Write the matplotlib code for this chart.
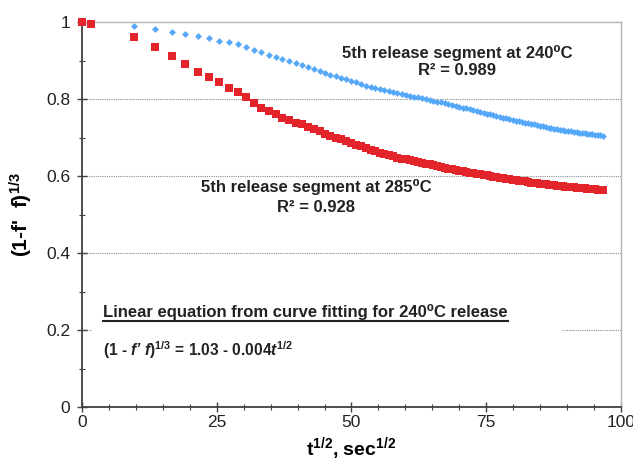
import matplotlib
matplotlib.use("Agg")
import matplotlib.pyplot as plt
from matplotlib.patches import Rectangle
from matplotlib.lines import Line2D

plt.rcParams['font.family'] = ['Liberation Sans', 'DejaVu Sans']
plt.rcParams['mathtext.fontset'] = 'custom'
plt.rcParams['mathtext.rm'] = 'Liberation Sans'
plt.rcParams['mathtext.it'] = 'Liberation Sans:italic'
plt.rcParams['mathtext.bf'] = 'Liberation Sans:bold'
plt.rcParams['mathtext.bfit'] = 'Liberation Sans:bold:italic'

# t^(1/2) values (sec^1/2)
x_pts = [9.6, 13.6, 16.7, 19.2, 21.5, 23.6, 25.4, 27.2, 28.9, 30.4,
         31.9, 33.3, 34.7, 36.0, 37.2, 38.5, 39.7, 40.8, 41.9, 43.0,
         44.1, 45.1, 46.1, 47.1, 48.1, 49.0, 50.0, 50.9, 51.8, 52.7,
         53.6, 54.4, 55.3, 56.1, 56.9, 57.7, 58.5, 59.3, 60.1, 60.8,
         61.6, 62.3, 63.1, 63.8, 64.5, 65.2, 65.9, 66.6, 67.3, 68.0,
         68.7, 69.4, 70.0, 70.7, 71.3, 72.0, 72.6, 73.3, 73.9, 74.5,
         75.1, 75.7, 76.3, 76.9, 77.5, 78.1, 78.7, 79.3, 79.9, 80.5,
         81.0, 81.6, 82.2, 82.7, 83.3, 83.9, 84.4, 84.9, 85.5, 86.0,
         86.6, 87.1, 87.6, 88.2, 88.7, 89.2, 89.7, 90.2, 90.7, 91.2,
         91.8, 92.3, 92.8, 93.3, 93.7, 94.2, 94.7, 95.2, 95.7, 96.2, 96.7]

# 5th release segment at 285 C (red squares)
x_285 = [0.0, 1.7] + x_pts
y_285 = [1.000, 0.995,
         0.960, 0.935, 0.911, 0.890, 0.871, 0.856, 0.843, 0.828, 0.818, 0.805,
         0.790, 0.777, 0.770, 0.760, 0.752, 0.745, 0.739, 0.734, 0.728, 0.722,
         0.716, 0.710, 0.705, 0.700, 0.695, 0.690, 0.686, 0.681, 0.677, 0.673,
         0.668, 0.665, 0.661, 0.658, 0.654, 0.651, 0.648, 0.645, 0.643, 0.641,
         0.638, 0.636, 0.634, 0.632, 0.630, 0.628, 0.625, 0.623, 0.621, 0.619,
         0.617, 0.616, 0.614, 0.612, 0.611, 0.609, 0.607, 0.606, 0.604, 0.603,
         0.602, 0.600, 0.598, 0.597, 0.595, 0.594, 0.593, 0.591, 0.590, 0.589,
         0.588, 0.587, 0.586, 0.585, 0.583, 0.582, 0.581, 0.580, 0.579, 0.578,
         0.577, 0.576, 0.576, 0.575, 0.574, 0.573, 0.572, 0.572, 0.571, 0.571,
         0.570, 0.569, 0.569, 0.568, 0.567, 0.567, 0.566, 0.566, 0.565, 0.565, 0.564]

# 5th release segment at 240 C (blue diamonds)
x_240 = x_pts
y_240 = [0.990, 0.982, 0.975, 0.969, 0.963, 0.958, 0.952, 0.947, 0.942, 0.935,
         0.928, 0.921, 0.914, 0.909, 0.904, 0.898, 0.893, 0.888, 0.884, 0.878,
         0.873, 0.868, 0.863, 0.859, 0.855, 0.851, 0.847, 0.843, 0.839, 0.835,
         0.832, 0.829, 0.826, 0.823, 0.820, 0.818, 0.815, 0.813, 0.811, 0.809,
         0.806, 0.804, 0.802, 0.800, 0.797, 0.795, 0.793, 0.791, 0.789, 0.787,
         0.785, 0.782, 0.780, 0.778, 0.776, 0.773, 0.771, 0.769, 0.767, 0.764,
         0.762, 0.760, 0.758, 0.756, 0.754, 0.752, 0.750, 0.748, 0.746, 0.744,
         0.742, 0.741, 0.739, 0.737, 0.736, 0.734, 0.732, 0.731, 0.729, 0.728,
         0.726, 0.725, 0.723, 0.722, 0.720, 0.719, 0.718, 0.717, 0.716, 0.715,
         0.714, 0.713, 0.712, 0.711, 0.710, 0.709, 0.708, 0.707, 0.707, 0.706, 0.705]

x_ticks = [0, 25, 50, 75, 100]
y_ticks = [0, 0.2, 0.4, 0.6, 0.8, 1]
y_ticklabels = ['0', '0.2', '0.4', '0.6', '0.8', '1']

fig = plt.figure(figsize=(6.33, 4.61), dpi=100)
ax = fig.add_axes([0.1295, 0.1171, 0.8515, 0.8351])

# dotted grid
for yv in y_ticks[1:-1]:
    ax.axhline(yv, color='#8c8c8c', lw=0.8, ls=(0, (1, 1)), zorder=1)

ax.plot(x_285, y_285, ls='none', marker='s', ms=5.8, mew=0,
        color='#e3242b', zorder=3, clip_on=False)
ax.plot(x_240, y_240, ls='none', marker='D', ms=3.5, mew=0,
        color='#55a8f8', zorder=4, clip_on=False)

ax.set_xlim(0, 100)
ax.set_ylim(0, 1)
ax.set_xticks(x_ticks)
ax.set_xticks(range(0, 101, 5), minor=True)
ax.set_yticks(y_ticks)
ax.set_yticklabels(y_ticklabels)
ax.set_yticks([0.1, 0.3, 0.5, 0.7, 0.9], minor=True)
ax.tick_params(axis='both', which='major', direction='inout', length=7,
               width=1, color='#404040', labelsize=12.5, labelcolor='#222222')
ax.tick_params(axis='x', which='major', pad=2)
ax.tick_params(axis='y', which='major', pad=5)
ax.tick_params(axis='both', which='minor', direction='inout', length=4,
               width=0.8, color='#404040')

for s in ['left', 'bottom']:
    ax.spines[s].set_color('#404040')
    ax.spines[s].set_linewidth(1.3)
for s in ['top', 'right']:
    ax.spines[s].set_color('#b5b5b5')
    ax.spines[s].set_linewidth(1.0)

ax.set_xlabel('t$^{\\mathbf{1/2}}$, sec$^{\\mathbf{1/2}}$', fontsize=14,
              fontweight='bold', labelpad=4)
ax.set_ylabel("(1-f'  f)$^{\\mathbf{1/3}}$", fontsize=15, fontweight='bold', labelpad=8)

# annotations
txt_kw = dict(ha='center', va='center', fontsize=12, fontweight='bold',
              color='#222222', zorder=6)
ax.text(69.6, 0.920, '5th release segment at 240⁰C', **txt_kw)
ax.text(69.6, 0.873, 'R² = 0.989', **txt_kw)
ax.text(43.4, 0.571, '5th release segment at 285⁰C', **txt_kw)
ax.text(43.4, 0.519, 'R² = 0.928', **txt_kw)

# white panel behind the fitted equation hides the 0.2 grid line
ax.add_patch(Rectangle((1.8, 0.13), 87.2, 0.16, facecolor='white',
                       edgecolor='none', zorder=2))
lin = ax.text(3.9, 0.247, 'Linear equation from curve fitting for 240⁰C release',
              ha='left', va='center', fontsize=12, fontweight='bold',
              color='#222222', zorder=6)
ax.text(3.9, 0.149, "(1 - $\\mathbfit{f’\\ f}$)$^{\\mathbf{1/3}}$ = 1.03 - 0.004$\\mathbfit{t}^{\\mathbf{1/2}}$",
        ha='left', va='center', fontsize=11.2, fontweight='bold',
        color='#222222', zorder=6)

# underline for the title of the equation
fig.canvas.draw()
bb = lin.get_window_extent()
yline = bb.y0 - 1
fig.add_artist(Line2D([bb.x0 / fig.bbox.width, bb.x1 / fig.bbox.width],
                      [yline / fig.bbox.height, yline / fig.bbox.height],
                      color='#222222', lw=1.5))

fig.savefig('out.png', dpi=100)
